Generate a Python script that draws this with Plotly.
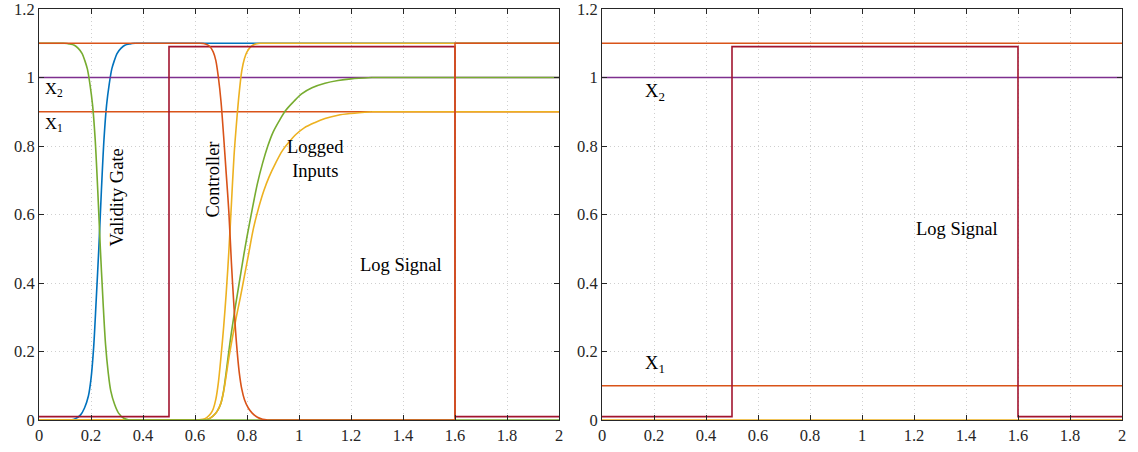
import plotly.graph_objects as go

# ---------------- data ----------------
X_MIN, X_MAX = 0, 2

# Left panel: transition parts of the smooth curves (flat before / after)
blue_x = [0.12, 0.14, 0.16, 0.175, 0.19, 0.2, 0.21, 0.22, 0.23, 0.24, 0.25, 0.26, 0.27, 0.28, 0.29, 0.3, 0.315, 0.33, 0.35, 0.37]
blue_y = [0, 0.004, 0.015, 0.035, 0.07, 0.12, 0.21, 0.35, 0.5, 0.67, 0.82, 0.92, 0.98, 1.025, 1.05, 1.07, 1.085, 1.094, 1.098, 1.1]

gate_x = [0.096, 0.116, 0.136, 0.151, 0.166, 0.176, 0.186, 0.196, 0.206, 0.216, 0.226, 0.236, 0.246, 0.256, 0.266, 0.276, 0.291, 0.306, 0.326, 0.346]
gate_y = [1.1, 1.098, 1.094, 1.085, 1.07, 1.05, 1.025, 0.98, 0.92, 0.82, 0.67, 0.5, 0.35, 0.22, 0.14, 0.085, 0.045, 0.02, 0.005, 0]

ctrl_x = [0.62, 0.64, 0.655, 0.67, 0.68, 0.69, 0.7, 0.71, 0.72, 0.73, 0.74, 0.75, 0.76, 0.77, 0.78, 0.79, 0.805, 0.82, 0.84, 0.86, 0.88]
ctrl_y = [1.1, 1.098, 1.092, 1.075, 1.05, 1.0, 0.93, 0.83, 0.72, 0.61, 0.46, 0.33, 0.22, 0.14, 0.09, 0.06, 0.035, 0.02, 0.008, 0.002, 0]
ctrl_step_x = [0.88, 1.6, 1.6, 2]
ctrl_step_y = [0, 0, 1.1, 1.1]

steep_x = [0.61, 0.63, 0.645, 0.66, 0.67, 0.68, 0.69, 0.7, 0.71, 0.72, 0.73, 0.74, 0.75, 0.76, 0.77, 0.78, 0.79, 0.8, 0.815, 0.83, 0.85]
steep_y = [0, 0.002, 0.007, 0.018, 0.032, 0.06, 0.11, 0.185, 0.27, 0.37, 0.49, 0.63, 0.77, 0.87, 0.955, 1.02, 1.055, 1.075, 1.09, 1.097, 1.1]

logg_x = [0.64, 0.655, 0.67, 0.685, 0.7, 0.71, 0.72, 0.73, 0.74, 0.755, 0.77, 0.785, 0.8, 0.82, 0.84, 0.86, 0.88, 0.9, 0.925, 0.95, 0.98, 1.01, 1.05, 1.1, 1.15, 1.2, 1.28]
logg_y = [0, 0.004, 0.012, 0.025, 0.05, 0.085, 0.14, 0.2, 0.255, 0.33, 0.4, 0.47, 0.535, 0.615, 0.69, 0.75, 0.8, 0.84, 0.875, 0.905, 0.93, 0.952, 0.97, 0.983, 0.991, 0.996, 1.0]

logy_x = [0.64, 0.655, 0.67, 0.685, 0.7, 0.71, 0.72, 0.73, 0.745, 0.76, 0.775, 0.79, 0.805, 0.825, 0.845, 0.865, 0.885, 0.91, 0.935, 0.96, 0.99, 1.02, 1.06, 1.1, 1.15, 1.2, 1.28]
logy_y = [0, 0.004, 0.012, 0.025, 0.05, 0.083, 0.13, 0.18, 0.245, 0.305, 0.36, 0.42, 0.48, 0.56, 0.62, 0.67, 0.71, 0.75, 0.785, 0.81, 0.835, 0.853, 0.868, 0.88, 0.89, 0.895, 0.9]

step_x = [0, 0.5, 0.5, 1.6, 1.6, 2]
step_y = [0.01, 0.01, 1.09, 1.09, 0.01, 0.01]

span_x = [X_MIN, X_MAX]
x1_left = [0.9, 0.9]
x2_level = [1.0, 1.0]
# Right panel
top_right = [1.1, 1.1]
x1_right = [0.1, 0.1]
zero_right = [0, 0]

ticks_x = [0, 0.2, 0.4, 0.6, 0.8, 1, 1.2, 1.4, 1.6, 1.8, 2]
ticks_x_text = ["0", "0.2", "0.4", "0.6", "0.8", "1", "1.2", "1.4", "1.6", "1.8", "2"]
ticks_y = [0, 0.2, 0.4, 0.6, 0.8, 1, 1.2]
ticks_y_text = ["0", "0.2", "0.4", "0.6", "0.8", "1", "1.2"]

# ---------------- styling ----------------
BLUE = "#0072BD"
ORANGE = "#D95319"
YELLOW = "#EDB120"
PURPLE = "#7E2F8E"
GREEN = "#77AC30"
RED = "#A2142F"
SERIF = "Liberation Serif, Times New Roman, serif"
LW = 1.6

fig = go.Figure()


def add(x, y, color, xa="x", ya="y", spline=False):
    fig.add_trace(go.Scatter(
        x=x, y=y, mode="lines", xaxis=xa, yaxis=ya, showlegend=False,
        hoverinfo="skip", cliponaxis=False,
        line=dict(color=color, width=LW, shape="spline" if spline else "linear", smoothing=0.9),
    ))


def add_curve(x, y, color):
    # flat lead-in, smooth transition, flat lead-out
    add([X_MIN, x[0]], [y[0], y[0]], color)
    add(x, y, color, spline=True)
    add([x[-1], X_MAX], [y[-1], y[-1]], color)


# Left panel (drawing order chosen to match overlaps in the reference)
add_curve(blue_x, blue_y, BLUE)
add(span_x, x1_left, ORANGE)
add(span_x, x2_level, PURPLE)
add_curve(logg_x, logg_y, GREEN)
add_curve(steep_x, steep_y, YELLOW)
add_curve(logy_x, logy_y, YELLOW)
add_curve(gate_x, gate_y, GREEN)
add(step_x, step_y, RED)
add([X_MIN, ctrl_x[0]], [ctrl_y[0], ctrl_y[0]], ORANGE)
add(ctrl_x, ctrl_y, ORANGE, spline=True)
add(ctrl_step_x, ctrl_step_y, ORANGE)

# Right panel
add(span_x, zero_right, YELLOW, "x2", "y2")
add(span_x, top_right, ORANGE, "x2", "y2")
add(span_x, x1_right, ORANGE, "x2", "y2")
add(span_x, x2_level, PURPLE, "x2", "y2")
add(step_x, step_y, RED, "x2", "y2")

axis_common = dict(
    showline=True, linecolor="#262626", linewidth=1, mirror="allticks",
    ticks="inside", ticklen=5, tickwidth=1, tickcolor="#262626",
    showgrid=True, gridcolor="#cfcfcf", griddash="1px,3px", gridwidth=1,
    zeroline=False, automargin=False, ticklabeloverflow="allow",
    tickfont=dict(family=SERIF, size=16.5, color="#262626"),
)

W, H = 1138, 452
ml, mr, mt, mb = 39, 16, 9, 32
pw = W - ml - mr
d_left = [0, 520 / pw]
d_right = [(602 - ml) / pw, 1]

fig.update_layout(
    width=W, height=H,
    margin=dict(l=ml, r=mr, t=mt, b=mb, autoexpand=False),
    font=dict(family=SERIF, size=16, color="#262626"),
    paper_bgcolor="white", plot_bgcolor="white",
    xaxis=dict(domain=d_left, range=[X_MIN, X_MAX], tickvals=ticks_x, ticktext=ticks_x_text, anchor="y", **axis_common),
    yaxis=dict(domain=[0, 1], range=[0, 1.2], tickvals=ticks_y, ticktext=ticks_y_text, anchor="x", **axis_common),
    xaxis2=dict(domain=d_right, range=[X_MIN, X_MAX], tickvals=ticks_x, ticktext=ticks_x_text, anchor="y2", **axis_common),
    yaxis2=dict(domain=[0, 1], range=[0, 1.2], tickvals=ticks_y, ticktext=ticks_y_text, anchor="x2", **axis_common),
)

TF = dict(family=SERIF, size=18.5, color="#000000")
TFs = dict(family=SERIF, size=16.5, color="#000000")
ann = [
    dict(x=0.058, y=0.965, xref="x", yref="y", text="X<sub>2</sub>", font=TFs),
    dict(x=0.058, y=0.863, xref="x", yref="y", text="X<sub>1</sub>", font=TFs),
    dict(x=0.30, y=0.65, xref="x", yref="y", text="Validity Gate", textangle=-90, font=TF),
    dict(x=0.669, y=0.702, xref="x", yref="y", text="Controller", textangle=-90, font=TF),
    dict(x=1.065, y=0.762, xref="x", yref="y", text="Logged<br>Inputs", font=TF),
    dict(x=1.392, y=0.454, xref="x", yref="y", text="Log Signal", font=TF),
    dict(x=0.204, y=0.956, xref="x2", yref="y2", text="X<sub>2</sub>", font=TF),
    dict(x=0.204, y=0.162, xref="x2", yref="y2", text="X<sub>1</sub>", font=TF),
    dict(x=1.365, y=0.559, xref="x2", yref="y2", text="Log Signal", font=TF),
]
for a in ann:
    a["showarrow"] = False
    fig.add_annotation(**a)

fig.write_html("out.html")
